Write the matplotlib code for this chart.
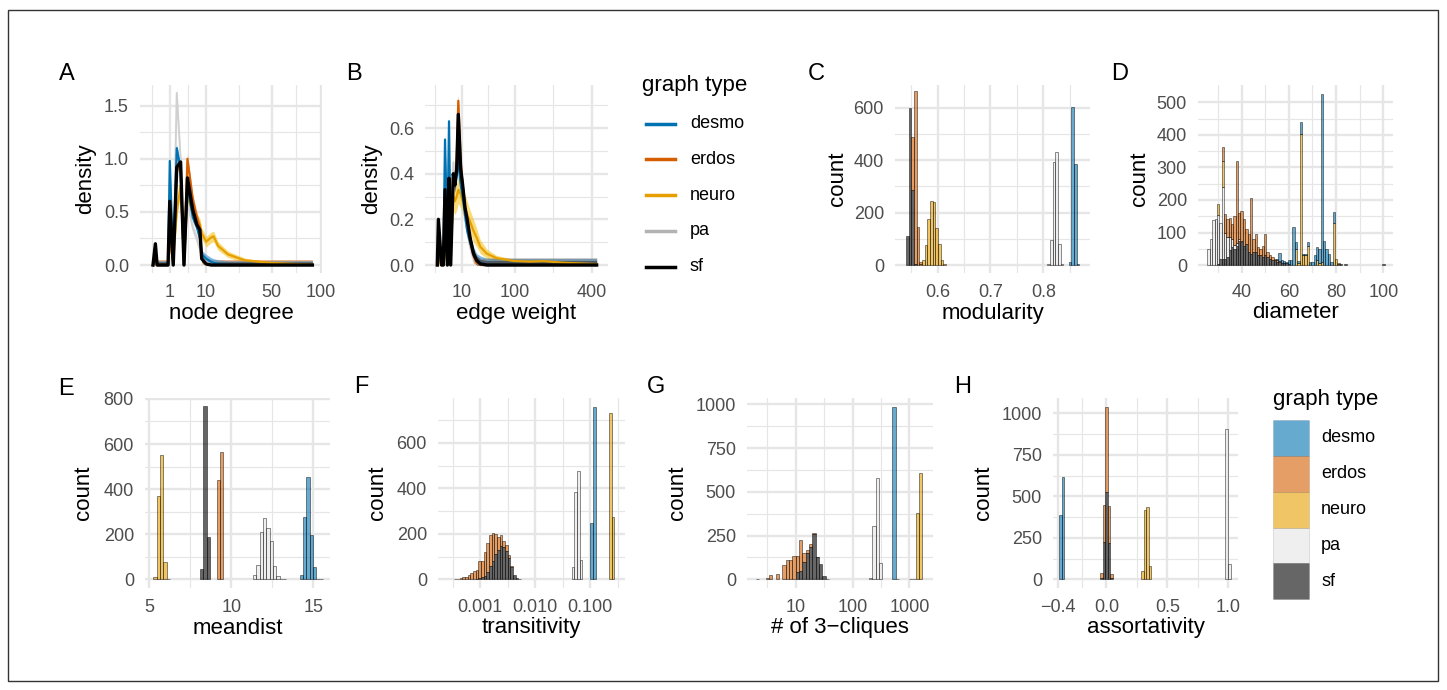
import numpy as np
import matplotlib
matplotlib.use("Agg")
import matplotlib.pyplot as plt
from matplotlib.ticker import FixedLocator, FixedFormatter, NullFormatter
from matplotlib.patches import Rectangle
from matplotlib.lines import Line2D
from matplotlib.colors import to_rgba

plt.rcParams['font.family'] = ['Liberation Sans', 'DejaVu Sans']

# ---------------- data ----------------
types = ['desmo', 'erdos', 'neuro', 'pa', 'sf']
line_colors = {'desmo': '#0072B2', 'erdos': '#D55E00', 'neuro': '#E69F00', 'pa': '#B3B3B3', 'sf': '#000000'}
fill_colors = {'desmo': '#0072B2', 'erdos': '#D55E00', 'neuro': '#E69F00', 'pa': '#E5E5E5', 'sf': '#000000'}
ribbon_colors = {'desmo': '#2D8FD5', 'erdos': '#E8731F', 'neuro': '#F5C21B', 'pa': '#D9D9D9', 'sf': '#333333'}

# A: node degree densities
A_degree = [0, 0.02, 0.06, 0.8, 1.0, 1.45, 2.0, 2.7, 3.4, 4.2, 5.6, 6.8, 7.8, 8.4, 10, 12, 13, 15, 20, 25, 30, 40, 50, 70, 90]
A_sf    = [0, 0.2, 0, 0, 0.6, 0, 0.92, 0.97, 0, 0.82, 0.52, 0.38, 0.33, 0.06, 0.01, 0, 0, 0, 0, 0, 0, 0, 0, 0, 0]
A_desmo = [0, 0.15, 0, 0, 0.98, 0, 1.1, 0.9, 0, 0.75, 0.45, 0.36, 0.25, 0.1, 0.06, 0.03, 0.02, 0.01, 0, 0, 0, 0, 0, 0, 0]
A_erdos = [0, 0.05, 0, 0, 0.3, 0, 0.95, 0.9, 0, 1.0, 0.62, 0.45, 0.35, 0.06, 0.01, 0, 0, 0, 0, 0, 0, 0, 0, 0, 0]
A_neuro = [0, 0.03, 0, 0, 0.2, 0.05, 0.5, 0.75, 0.05, 0.65, 0.5, 0.42, 0.38, 0.3, 0.22, 0.26, 0.27, 0.18, 0.1, 0.07, 0.045, 0.03, 0.02, 0.01, 0.004]
A_pa    = [0, 0.1, 0, 0, 0.5, 0, 1.62, 1.0, 0, 0.6, 0.35, 0.25, 0.15, 0.08, 0.03, 0.01, 0, 0, 0, 0, 0, 0, 0, 0, 0]
A_neuro_band = [0.01, 0.02, 0.01, 0.01, 0.05, 0.03, 0.06, 0.07, 0.03, 0.07, 0.06, 0.06, 0.06, 0.05, 0.05,
                0.05, 0.05, 0.04, 0.03, 0.025, 0.02, 0.015, 0.01, 0.008, 0.004]
A_band  = {'desmo': 0.04, 'erdos': 0.05, 'neuro': A_neuro_band, 'pa': 0.05, 'sf': 0.03}

# B: edge weight densities
B_weight = [0, 0.02, 0.3, 0.6, 1.0, 1.7, 2.3, 3.0, 4.3, 5.2, 6.3, 7.4, 9.2, 10.8, 12.9, 15, 18, 22, 26, 31, 41, 59, 97, 144, 189, 266, 426]
B_sf    = [0, 0.2, 0, 0, 0.33, 0, 0.38, 0, 0.4, 0.35, 0.42, 0.66, 0.42, 0.35, 0.25, 0.2, 0.12, 0.05, 0.02, 0.005, 0, 0, 0, 0, 0, 0, 0]
B_desmo = [0, 0.1, 0, 0, 0.55, 0.1, 0.63, 0.05, 0.4, 0.35, 0.4, 0.45, 0.35, 0.3, 0.22, 0.15, 0.1, 0.05, 0.02, 0.01, 0, 0, 0, 0, 0, 0, 0]
B_erdos = [0, 0.05, 0, 0, 0.2, 0, 0.3, 0, 0.38, 0.35, 0.45, 0.72, 0.45, 0.35, 0.25, 0.18, 0.1, 0.04, 0.01, 0, 0, 0, 0, 0, 0, 0, 0]
B_neuro = [0, 0.02, 0, 0, 0.1, 0, 0.2, 0.05, 0.3, 0.28, 0.3, 0.33, 0.31, 0.28, 0.25, 0.22, 0.19, 0.15, 0.12, 0.08, 0.05, 0.03, 0.018, 0.015, 0.017, 0.01, 0.004]
B_pa    = [0, 0.1, 0, 0, 0.3, 0, 0.5, 0.05, 0.45, 0.38, 0.42, 0.5, 0.38, 0.3, 0.2, 0.15, 0.08, 0.03, 0.01, 0, 0, 0, 0, 0, 0, 0, 0]
B_neuro_band = [0.01, 0.02, 0.01, 0.01, 0.03, 0.01, 0.05, 0.03, 0.06, 0.06, 0.06, 0.06, 0.06, 0.06, 0.06,
                0.06, 0.05, 0.05, 0.04, 0.03, 0.02, 0.012, 0.008, 0.008, 0.007, 0.005, 0.003]
B_band  = {'desmo': 0.03, 'erdos': 0.03, 'neuro': B_neuro_band, 'pa': 0.03, 'sf': 0.02}

# C: modularity histogram (bin start, bin width, counts by bin index)
C_lo, C_w, C_n = 0.54, 0.00505, 66
C_sf    = {0: 110, 1: 600, 2: 288, 3: 5}
C_erdos = {2: 202, 3: 658, 4: 146, 5: 10}
C_neuro = {5: 3, 6: 21, 7: 75, 8: 174, 9: 244, 10: 239, 11: 140, 12: 80, 13: 21, 14: 3}
C_pa    = {53: 5, 54: 95, 55: 392, 56: 431, 57: 81, 58: 2}
C_desmo = {61: 10, 62: 603, 63: 385, 64: 5}

# D: diameter histogram (bins of width 1, keyed by diameter)
D_sf    = {30: 3, 31: 20, 32: 20, 33: 20, 34: 25, 35: 45, 36: 55, 37: 50, 38: 60, 39: 75, 40: 70, 41: 60, 42: 65,
           43: 40, 44: 35, 45: 40, 46: 40, 47: 30, 48: 30, 49: 25, 50: 30, 51: 25, 52: 20, 53: 15, 54: 15, 55: 10,
           56: 10, 57: 5, 58: 5, 59: 5, 60: 3, 81: 3, 82: 3, 84: 2, 100: 2}
D_pa    = {26: 48, 27: 79, 28: 138, 29: 140, 30: 150, 31: 110, 32: 220, 33: 80, 34: 60, 35: 40, 36: 25, 37: 12,
           38: 8, 39: 5, 40: 3}
D_neuro = {30: 35, 32: 80, 63: 50, 64: 5, 65: 403, 66: 30, 67: 30, 68: 60, 72: 15, 73: 5, 74: 10, 79: 130, 80: 20, 81: 2}
D_erdos = {32: 42, 33: 58, 34: 55, 35: 60, 36: 45, 37: 88, 38: 253, 39: 80, 40: 92, 41: 80, 42: 45, 43: 55,
           44: 170, 45: 40, 46: 55, 47: 25, 48: 20, 49: 35, 50: 66, 51: 15, 52: 10, 53: 10, 54: 5, 55: 5, 56: 3}
D_desmo = {55: 5, 56: 25, 57: 10, 58: 7, 59: 5, 60: 12, 61: 15, 62: 118, 63: 20, 64: 7, 65: 37, 66: 5, 67: 5,
           68: 12, 69: 10, 70: 10, 71: 30, 72: 40, 73: 45, 74: 515, 75: 75, 76: 50, 77: 35, 78: 10, 79: 32}

# E: meandist histogram
E_lo, E_w, E_n = 5.26, 0.2025, 52
E_neuro = {0: 9, 1: 370, 2: 550, 3: 75, 4: 3}
E_sf    = {14: 45, 15: 768, 16: 186}
E_erdos = {19: 440, 20: 563}
E_pa    = {30: 20, 31: 62, 32: 208, 33: 270, 34: 226, 35: 168, 36: 58, 37: 16, 38: 3, 39: 2}
E_desmo = {44: 19, 45: 275, 46: 452, 47: 197, 48: 53, 49: 3, 50: 2}

# F: transitivity histogram (log10 bins)
F_lo, F_w, F_n = -3.465, 0.0485, 60
F_sf    = {8: 3, 9: 5, 10: 10, 11: 15, 12: 30, 13: 60, 14: 80, 15: 110, 16: 130, 17: 145, 18: 140, 19: 125,
           20: 95, 21: 55, 22: 20, 23: 5, 24: 2}
F_erdos = {0: 2, 1: 3, 2: 5, 3: 8, 4: 10, 5: 20, 6: 28, 7: 35, 8: 37, 9: 75, 10: 72, 11: 105, 12: 130, 13: 135,
           14: 125, 15: 90, 16: 55, 17: 50, 18: 30, 19: 25, 20: 10, 21: 5}
F_pa    = {44: 55, 45: 382, 46: 476, 47: 83}
F_desmo = {51: 246, 52: 757}
F_neuro = {58: 729, 59: 274}

# G: number of 3-cliques histogram (log10 bins)
G_lo, G_w, G_n = 0.236, 0.0587, 52
G_sf    = {1: 2, 13: 40, 14: 50, 15: 100, 16: 150, 17: 185, 18: 260, 19: 125, 20: 85, 21: 20, 22: 3, 47: 2, 48: 3}
G_erdos = {4: 5, 5: 25, 7: 28, 9: 80, 10: 110, 11: 110, 12: 135, 13: 95, 14: 172, 15: 50, 16: 15, 17: 15, 18: 3, 19: 5}
G_pa    = {35: 5, 36: 305, 37: 580, 38: 95}
G_desmo = {42: 985, 43: 3}
G_neuro = {49: 380, 50: 610}

# H: assortativity histogram
H_lo, H_w, H_n = -0.4105, 0.021, 70
H_desmo = {1: 385, 2: 615}
H_sf    = {17: 10, 18: 225, 19: 525, 20: 220, 21: 10}
H_erdos = {17: 30, 18: 225, 19: 510, 20: 220, 21: 20}
H_neuro = {33: 50, 34: 420, 35: 438, 36: 82}
H_pa    = {66: 908, 67: 90}

# ---------------- figure ----------------
W, H = 1447, 690
fig = plt.figure(figsize=(W / 100, H / 100), dpi=100)

def px_axes(l, r, t, b):
    return fig.add_axes([l / W, 1 - b / H, (r - l) / W, (b - t) / H])

def fx(x):
    return x / W

def fy(y):
    return 1 - y / H

GRID = '#E6E6E6'
TICK_COLOR = '#4D4D4D'

def sqrt_fwd(x):
    x = np.asarray(x, dtype=float)
    return np.sign(x) * np.sqrt(np.abs(x))

def sqrt_inv(y):
    y = np.asarray(y, dtype=float)
    return np.sign(y) * y ** 2

def setup(ax, xlim, ylim, xmaj, xlab, xmin, ymaj, ylab, ymin):
    ax.set_xlim(*xlim)
    ax.set_ylim(*ylim)
    ax.xaxis.set_major_locator(FixedLocator(xmaj))
    ax.xaxis.set_major_formatter(FixedFormatter(xlab))
    ax.xaxis.set_minor_locator(FixedLocator(xmin))
    ax.xaxis.set_minor_formatter(NullFormatter())
    ax.yaxis.set_major_locator(FixedLocator(ymaj))
    ax.yaxis.set_major_formatter(FixedFormatter(ylab))
    ax.yaxis.set_minor_locator(FixedLocator(ymin))
    ax.yaxis.set_minor_formatter(NullFormatter())
    ax.grid(True, which='major', color=GRID, lw=1.7)
    ax.grid(True, which='minor', color=GRID, lw=0.85)
    ax.set_axisbelow(True)
    for s in ax.spines.values():
        s.set_visible(False)
    ax.tick_params(which='both', length=0, labelsize=13, labelcolor=TICK_COLOR, pad=8)
    ax.set_facecolor('none')

STACK_ORDER = ['sf', 'pa', 'neuro', 'erdos', 'desmo']

def full(n, d):
    arr = np.zeros(n)
    for k, v in d.items():
        arr[k] = v
    return arr

def draw_hist(ax, left, right, series):
    bottom = np.zeros(len(left))
    for t in STACK_ORDER:
        h = series[t]
        m = h > 0
        ax.bar(left[m], h[m], width=(right - left)[m], bottom=bottom[m], align='edge',
               facecolor=to_rgba(fill_colors[t], 0.6), edgecolor=(0, 0, 0, 0.7),
               linewidth=0.45, zorder=2)
        bottom = bottom + h

def draw_density(ax, x, ys, bands):
    x = np.asarray(x, dtype=float)
    order = ['pa', 'neuro', 'erdos', 'desmo', 'sf']
    for t in order:
        y = np.asarray(ys[t], dtype=float)
        b = np.asarray(bands[t], dtype=float)
        ax.fill_between(x, np.maximum(y - b, 0), y + b, color=ribbon_colors[t], alpha=0.6, lw=0, zorder=2)
    for t in order:
        y = np.asarray(ys[t], dtype=float)
        if t == 'pa':
            ax.plot(x, y, color='#D0D0D0', lw=1.4, zorder=3)
        else:
            ax.plot(x, y, color=line_colors[t], lw=2.4 if t == 'sf' else 1.6, zorder=3)

def panel_text(letter, x, y):
    fig.text(fx(x), fy(y), letter, fontsize=17, ha='center', va='center', color='black')

def xtitle(s, x, y):
    fig.text(fx(x), fy(y), s, fontsize=16, ha='center', va='center', color='black')

def ytitle(s, x, y):
    fig.text(fx(x), fy(y), s, fontsize=16, ha='center', va='center', rotation=90, color='black')

# ---- A ----
axA = px_axes(140, 322, 85, 273)
axA.set_xscale('function', functions=(sqrt_fwd, sqrt_inv))
draw_density(axA, A_degree, {'desmo': A_desmo, 'erdos': A_erdos, 'neuro': A_neuro, 'pa': A_pa, 'sf': A_sf}, A_band)
setup(axA, (-0.599, 101.2), (-0.075, 1.695),
      [1, 10, 50, 100], ['1', '10', '50', '100'], [-0.0064, 4.33, 26.2, 72.9],
      [0, 0.5, 1.0, 1.5], ['0.0', '0.5', '1.0', '1.5'], [0.25, 0.75, 1.25])
panel_text('A', 66.5, 74)
xtitle('node degree', 231, 313)
ytitle('density', 86, 179)

# ---- B ----
axB = px_axes(425, 608, 85, 273)
axB.set_xscale('function', functions=(sqrt_fwd, sqrt_inv))
draw_density(axB, B_weight, {'desmo': B_desmo, 'erdos': B_erdos, 'neuro': B_neuro, 'pa': B_pa, 'sf': B_sf}, B_band)
setup(axB, (-2.538, 488.9), (-0.035, 0.789),
      [10, 100, 400], ['10', '100', '400'], [-0.066, 43.3, 225],
      [0, 0.2, 0.4, 0.6], ['0.0', '0.2', '0.4', '0.6'], [0.1, 0.3, 0.5, 0.7])
panel_text('B', 354, 74)
xtitle('edge weight', 516.5, 313)
ytitle('density', 372, 179)

# ---- legend 1 (lines) ----
fig.text(fx(642), fy(85), 'graph type', fontsize=16, ha='left', va='center')
for i, t in enumerate(types):
    yy = 123.5 + 35.8 * i
    fig.add_artist(Line2D([fx(646), fx(675)], [fy(yy), fy(yy)], color=line_colors[t], lw=2.5))
    fig.text(fx(690), fy(yy), t, fontsize=13, ha='left', va='center')

# ---- C ----
axC = px_axes(895, 1090, 85, 273)
C_left = C_lo + C_w * np.arange(C_n)
draw_hist(axC, C_left, C_left + C_w, {t: full(C_n, d) for t, d in
          zip(types, [C_desmo, C_erdos, C_neuro, C_pa, C_sf])})
setup(axC, (0.5191, 0.8885), (-30.5, 687),
      [0.6, 0.7, 0.8], ['0.6', '0.7', '0.8'], [0.55, 0.65, 0.75, 0.85],
      [0, 200, 400, 600], ['0', '200', '400', '600'], [100, 300, 500])
panel_text('C', 816.5, 74)
xtitle('modularity', 992.5, 313)
ytitle('count', 837, 179)

# ---- D ----
axD = px_axes(1198, 1393, 85, 273)
D_diam = np.arange(26, 101)
D_left = D_diam - 0.5
D_series = {}
for t, d in zip(types, [D_desmo, D_erdos, D_neuro, D_pa, D_sf]):
    D_series[t] = np.array([d.get(int(v), 0) for v in D_diam], dtype=float)
draw_hist(axD, D_left, D_left + 1.0, D_series)
setup(axD, (21.5, 104.1), (-24.6, 553.8),
      [40, 60, 80, 100], ['40', '60', '80', '100'], [30, 50, 70, 90],
      [0, 100, 200, 300, 400, 500], ['0', '100', '200', '300', '400', '500'], [50, 150, 250, 350, 450])
panel_text('D', 1120, 74)
xtitle('diameter', 1295.5, 313)
ytitle('count', 1140, 179)

# ---- E ----
axE = px_axes(145, 330, 398, 588)
E_left = E_lo + E_w * np.arange(E_n)
draw_hist(axE, E_left, E_left + E_w, {t: full(E_n, d) for t, d in
          zip(types, [E_desmo, E_erdos, E_neuro, E_pa, E_sf])})
setup(axE, (4.757, 16.01), (-38.6, 804),
      [5, 10, 15], ['5', '10', '15'], [7.5, 12.5],
      [0, 200, 400, 600, 800], ['0', '200', '400', '600', '800'], [100, 300, 500, 700])
panel_text('E', 66, 389)
xtitle('meandist', 237.5, 628)
ytitle('count', 84, 493)

# ---- F ----
axF = px_axes(438, 625, 398, 588)
axF.set_xscale('log')
F_edges = 10 ** (F_lo + F_w * np.arange(F_n + 1))
draw_hist(axF, F_edges[:-1], F_edges[1:], {t: full(F_n, d) for t, d in
          zip(types, [F_desmo, F_erdos, F_neuro, F_pa, F_sf])})
setup(axF, (10 ** -3.764, 10 ** -0.364), (-38.2, 797),
      [0.001, 0.01, 0.1], ['0.001', '0.010', '0.100'],
      [10 ** -3.5, 10 ** -2.5, 10 ** -1.5, 10 ** -0.5],
      [0, 200, 400, 600], ['0', '200', '400', '600'], [100, 300, 500, 700])
panel_text('F', 361, 387)
xtitle('transitivity', 531.5, 628)
ytitle('count', 378, 493)

# ---- G ----
axG = px_axes(747, 933, 398, 588)
axG.set_xscale('log')
G_edges = 10 ** (G_lo + G_w * np.arange(G_n + 1))
draw_hist(axG, G_edges[:-1], G_edges[1:], {t: full(G_n, d) for t, d in
          zip(types, [G_desmo, G_erdos, G_neuro, G_pa, G_sf])})
setup(axG, (10 ** 0.1426, 10 ** 3.417), (-49.7, 1036),
      [10, 100, 1000], ['10', '100', '1000'], [10 ** 0.5, 10 ** 1.5, 10 ** 2.5],
      [0, 250, 500, 750, 1000], ['0', '250', '500', '750', '1000'], [125, 375, 625, 875])
panel_text('G', 656, 387)
xtitle('# of 3\u2212cliques', 840, 628)
ytitle('count', 677, 493)

# ---- H ----
axH = px_axes(1053, 1238, 398, 588)
H_left = H_lo + H_w * np.arange(H_n)
draw_hist(axH, H_left, H_left + H_w, {t: full(H_n, d) for t, d in
          zip(types, [H_desmo, H_erdos, H_neuro, H_pa, H_sf])})
setup(axH, (-0.4385, 1.078), (-52.4, 1092),
      [-0.4, 0.0, 0.5, 1.0], ['\u22120.4', '0.0', '0.5', '1.0'], [-0.2, 0.25, 0.75],
      [0, 250, 500, 750, 1000], ['0', '250', '500', '750', '1000'], [125, 375, 625, 875])
panel_text('H', 963, 387)
xtitle('assortativity', 1145.5, 628)
ytitle('count', 983, 493)

# ---- legend 2 (fills) ----
fig.text(fx(1273), fy(399), 'graph type', fontsize=16, ha='left', va='center')
for i, t in enumerate(types):
    y0 = 420 + 35.85 * i
    fig.add_artist(Rectangle((fx(1273), fy(y0 + 35.85)), 36 / W, 35.85 / H,
                             facecolor=to_rgba(fill_colors[t], 0.6), edgecolor=(0, 0, 0, 0.15), lw=0.5))
    fig.text(fx(1321), fy(y0 + 35.85 / 2), t, fontsize=13, ha='left', va='center')

# ---- outer frame ----
fig.add_artist(Rectangle((fx(8), fy(681)), (1438 - 8) / W, (681 - 10) / H,
                         facecolor='none', edgecolor='#333333', lw=1.0))

fig.savefig('out.png', dpi=100)
